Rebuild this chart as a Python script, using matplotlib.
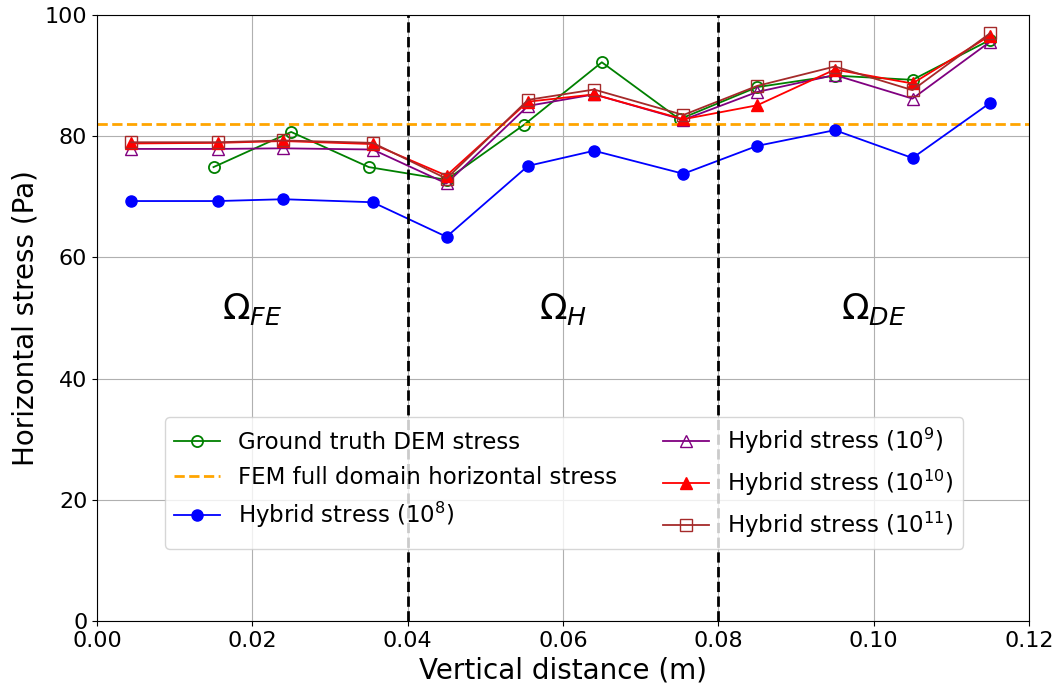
import numpy as np
import matplotlib
matplotlib.use('Agg')
import matplotlib.pyplot as plt

# Data
x_dem = [0.015, 0.025, 0.035, 0.045, 0.055, 0.065, 0.075, 0.085, 0.095, 0.105, 0.115]
dem_stress = [74.9, 80.7, 74.9, 72.8, 81.9, 92.2, 82.8, 88.1, 90.0, 89.3, 95.9]

x_hyb = [0.0044, 0.0156, 0.024, 0.0355, 0.045, 0.0555, 0.064, 0.0755, 0.085, 0.095, 0.105, 0.115]
hyb_1e8 = [69.3, 69.3, 69.6, 69.1, 63.4, 75.1, 77.6, 73.8, 78.4, 81.0, 76.4, 85.5]
hyb_1e9 = [77.9, 77.9, 78.0, 77.8, 72.2, 85.0, 86.9, 82.7, 87.3, 90.1, 86.2, 95.6]
hyb_1e10 = [78.8, 78.9, 79.2, 78.7, 73.5, 85.7, 86.9, 82.8, 85.1, 91.0, 88.7, 96.6]
hyb_1e11 = [79.0, 79.0, 79.3, 78.9, 73.0, 86.0, 87.7, 83.5, 88.3, 91.5, 87.6, 97.0]

fem_stress = 82.0
boundaries = [0.04, 0.08]
regions = [(0.02, r'$\Omega_{FE}$'), (0.06, r'$\Omega_{H}$'), (0.10, r'$\Omega_{DE}$')]

fig = plt.figure(figsize=(10.63, 6.86), dpi=100)
ax = fig.add_axes([97/1063, 1 - 621/686, 932/1063, 606/686])

ax.plot(x_dem, dem_stress, color='green', marker='o', mfc='none', ms=8, mew=1.3,
        lw=1.3, label='Ground truth DEM stress')
ax.axhline(fem_stress, color='orange', ls='--', lw=2, label='FEM full domain horizontal stress')
ax.plot(x_hyb, hyb_1e8, color='blue', marker='o', ms=8, lw=1.3, label=r'Hybrid stress ($10^8$)')
ax.plot(x_hyb, hyb_1e9, color='purple', marker='^', mfc='none', ms=8, mew=1.0,
        lw=1.3, label=r'Hybrid stress ($10^9$)')
ax.plot(x_hyb, hyb_1e10, color='red', marker='^', ms=8, lw=1.3, label=r'Hybrid stress ($10^{10}$)')
ax.plot(x_hyb, hyb_1e11, color='brown', marker='s', mfc='none', ms=8, mew=1.0,
        lw=1.3, label=r'Hybrid stress ($10^{11}$)')

for b in boundaries:
    ax.axvline(b, color='black', ls='--', lw=2)

for xr, txt in regions:
    ax.text(xr, 51.5, txt, fontsize=26, ha='center', va='center')

ax.set_xlim(0, 0.12)
ax.set_ylim(0, 100)
ax.set_xlabel('Vertical distance (m)', fontsize=20)
ax.set_ylabel('Horizontal stress (Pa)', fontsize=20)
ax.tick_params(labelsize=16)
ax.grid(True, color='#b0b0b0', lw=0.8)
ax.legend(ncol=2, fontsize=16.5, loc='lower left', bbox_to_anchor=(0.073, 0.119),
          borderaxespad=0)

plt.savefig('out.png', dpi=100)
